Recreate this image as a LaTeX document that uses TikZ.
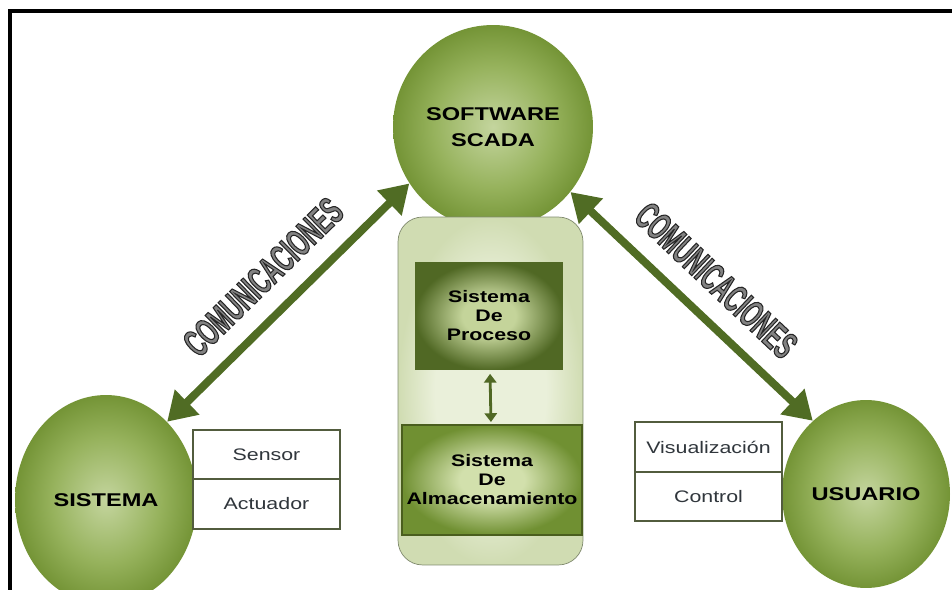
\documentclass[tikz,border=0pt]{standalone}
\usepackage{fontspec}
\setmainfont{Liberation Sans}[FakeStretch=1.28]
\newfontfamily\commfont{Liberation Sans}[FakeStretch=0.57]
\usetikzlibrary{shapes.geometric,arrows.meta,positioning}
\definecolor{ballight}{RGB}{196,213,158}
\definecolor{balmid}{RGB}{150,178,92}
\definecolor{baldark}{RGB}{116,148,54}
\definecolor{arrowgreen}{RGB}{80,108,36}
\definecolor{boxdark}{RGB}{80,104,36}
\definecolor{boxlight}{RGB}{196,212,154}
\definecolor{almdark}{RGB}{112,144,50}
\definecolor{almlight}{RGB}{210,224,172}
\definecolor{almline}{RGB}{74,94,30}
\definecolor{panelfill}{RGB}{234,240,218}
\definecolor{paneledge}{RGB}{208,220,178}
\definecolor{panelline}{RGB}{128,138,110}
\definecolor{cellline}{RGB}{82,92,62}
\definecolor{celltext}{RGB}{48,54,60}
\definecolor{commgray}{RGB}{130,130,130}
\pgfdeclareradialshading{ballshade}{\pgfpoint{0bp}{0bp}}{color(0bp)=(ballight); color(15bp)=(balmid); color(25bp)=(baldark); color(50bp)=(baldark)}
\pgfdeclareradialshading{boxshade}{\pgfpoint{0bp}{0bp}}{color(0bp)=(boxlight); color(9bp)=(boxlight); color(25bp)=(boxdark); color(50bp)=(boxdark)}
\pgfdeclareradialshading{almshade}{\pgfpoint{0bp}{0bp}}{color(0bp)=(almlight); color(9bp)=(almlight); color(25bp)=(almdark); color(50bp)=(almdark)}
\pgfdeclareradialshading{panelshade}{\pgfpoint{0bp}{0bp}}{color(0bp)=(panelfill); color(15bp)=(panelfill); color(25bp)=(paneledge); color(50bp)=(paneledge)}
% outlined letters (fill + stroke)
\newcommand{\outlinedword}[1]{\special{pdf:literal direct 2 Tr 0.6 w 0.15 G}#1\special{pdf:literal direct 0 Tr}}

\begin{document}
\begin{tikzpicture}[x=0.02cm, y=-0.02cm,
        ball/.style={ellipse, shading=ballshade, inner sep=0pt, align=center, font=\fontsize{10.5}{15}\selectfont\bfseries},
        link/.style={arrowgreen, line width=4.5pt, {Triangle[length=16pt,width=19pt]}-{Triangle[length=16pt,width=19pt]}},
        minilink/.style={boxdark, line width=1.6pt, shorten <=2pt, shorten >=1pt, {Triangle[length=5pt,width=7pt]}-{Triangle[length=5pt,width=7pt]}},
        commlabel/.style={midway, sloped, above=7pt, text=commgray, font=\commfont\bfseries\fontsize{22}{24}\selectfont},
        panel/.style={rectangle, rounded corners=14pt, draw=panelline, shading=panelshade, minimum width=3.7cm, minimum height=6.96cm},
        sysbox/.style={rectangle, align=center, inner sep=0pt, font=\fontsize{9.5}{10.8}\selectfont\bfseries},
        cell/.style={rectangle, draw=cellline, line width=1.2pt, fill=white, outer sep=0pt, minimum width=2.94cm, minimum height=0.99cm, text=celltext, font=\fontsize{9.5}{11}\selectfont}
    ]
        \useasboundingbox (0,0) rectangle (952,590);

        % Circles (cut by the frame)
        \begin{scope}
            \clip (10,11) rectangle (952,590);
            \node[ball, minimum width=4cm, minimum height=4.08cm] (scada) at (493,127) {SOFTWARE\\SCADA};
            \node[ball, minimum width=3.64cm, minimum height=4.2cm] (sistema) at (106,500) {SISTEMA};
            \node[ball, minimum width=3.36cm, minimum height=3.76cm] (usuario) at (866,494) {USUARIO};
        \end{scope}

        % Central panel
        \node[panel] (panel) at (490.5,391) {};
        \node[sysbox, shading=boxshade, minimum width=2.96cm, minimum height=2.16cm] (proceso) at (489,316) {Sistema\\De\\Proceso};
        \node[sysbox, shading=almshade, draw=almline, line width=1.4pt, minimum width=3.6cm, minimum height=2.2cm] (almacen) at (492,480) {Sistema\\De\\Almacenamiento};
        \draw[minilink] (proceso) -- (almacen);

        % Communications
        \draw[link] (scada.214) -- (sistema.52) node[commlabel] {\outlinedword{COMUNICACIONES}};
        \draw[link] (scada.320) -- (usuario.126) node[commlabel] {\outlinedword{COMUNICACIONES}};

        % Field and operator parts
        \node[cell] (sensor) at (266.5,454.5) {Sensor};
        \node[cell, below=0pt of sensor] (actuador) {Actuador};
        \node[cell] (visual) at (708.5,447) {Visualización};
        \node[cell, below=0pt of visual] (control) {Control};

        % Frame
        \draw[line width=2.3pt] (10,590) -- (10,11) -- (952,11);

    \end{tikzpicture}
\end{document}
